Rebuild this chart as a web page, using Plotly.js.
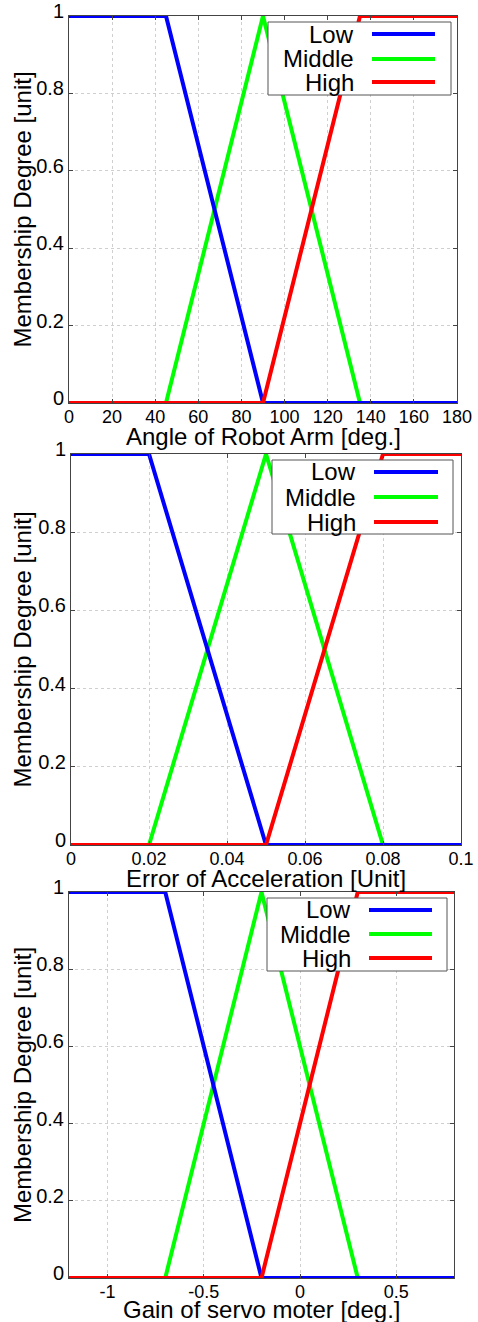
<!DOCTYPE html>
<html>
<head>
<meta charset="utf-8">
<script src="https://cdn.plot.ly/plotly-3.0.1.min.js"></script>
<style>html,body{margin:0;padding:0;background:#fff;}#chart{width:478px;height:1322px;}</style>
</head>
<body>
<div id="chart"></div>
<script>
// ---- Data ----
const seriesNames = ["Low", "Middle", "High"];
const seriesColors = ["#0000ff", "#00ff00", "#ff0000"];

// Panel 1: Angle of Robot Arm [deg.]
const angleLowX = [0, 45, 90, 180];
const angleLowY = [1, 1, 0, 0];
const angleMidX = [0, 45, 90, 135, 180];
const angleMidY = [0, 0, 1, 0, 0];
const angleHighX = [0, 90, 135, 180];
const angleHighY = [0, 0, 1, 1];

// Panel 2: Error of Acceleration [Unit]
const errLowX = [0, 0.02, 0.05, 0.1];
const errLowY = [1, 1, 0, 0];
const errMidX = [0, 0.02, 0.05, 0.08, 0.1];
const errMidY = [0, 0, 1, 0, 0];
const errHighX = [0, 0.05, 0.08, 0.1];
const errHighY = [0, 0, 1, 1];

// Panel 3: Gain of servo moter [deg.]
const gainLowX = [-1.2, -0.7, -0.2, 0.8];
const gainLowY = [1, 1, 0, 0];
const gainMidX = [-1.2, -0.7, -0.2, 0.3, 0.8];
const gainMidY = [0, 0, 1, 0, 0];
const gainHighX = [-1.2, -0.2, 0.3, 0.8];
const gainHighY = [0, 0, 1, 1];

const gainTickVals = [-1, -0.5, 0, 0.5];
const gainTickText = ["-1", "-0.5", "0", "0.5"];

const xTitles = ["Angle of Robot Arm [deg.]", "Error of Acceleration [Unit]", "Gain of servo moter [deg.]"];
const yTitle = "Membership Degree [unit]";

// ---- Layout geometry (pixels) ----
const W = 478, H = 1322;
const panels = [
  {x0: 69, x1: 457, y0: 16, y1: 403, tx: 263, ty: 436, leg: {x0: 268, x1: 451, y0: 22, y1: 95, tx: 356, l0: 372, l1: 435, rows: [34, 59, 82]}},
  {x0: 71, x1: 461, y0: 454, y1: 845, tx: 266, ty: 878, leg: {x0: 272, x1: 453, y0: 460, y1: 534, tx: 358, l0: 374, l1: 438, rows: [472, 497, 522]}},
  {x0: 69, x1: 454, y0: 892, y1: 1278, tx: 261, ty: 1309, leg: {x0: 267, x1: 447, y0: 898, y1: 971, tx: 353, l0: 369, l1: 432, rows: [910, 934, 958]}}
];
const px = v => v / W;
const py = v => 1 - v / H;

const dataSets = [
  [[angleMidX, angleMidY, 1], [angleLowX, angleLowY, 0], [angleHighX, angleHighY, 2]],
  [[errMidX, errMidY, 1], [errLowX, errLowY, 0], [errHighX, errHighY, 2]],
  [[gainMidX, gainMidY, 1], [gainLowX, gainLowY, 0], [gainHighX, gainHighY, 2]]
];

const traces = [];
dataSets.forEach((set, p) => {
  const sfx = p === 0 ? "" : String(p + 1);
  set.forEach(([xs, ys, idx]) => {
    traces.push({
      type: "scatter", mode: "lines", x: xs, y: ys,
      name: seriesNames[idx], showlegend: false,
      line: {color: seriesColors[idx], width: 4},
      xaxis: "x" + sfx, yaxis: "y" + sfx, hoverinfo: "skip"
    });
  });
});

const font = "Liberation Sans, Arial, Helvetica, sans-serif";
const axisCommon = {
  showline: true, mirror: "ticks", linecolor: "#444", linewidth: 1,
  ticks: "inside", ticklen: 4, tickcolor: "#444",
  showgrid: true, gridcolor: "#cfcfcf", griddash: "dot", gridwidth: 1,
  zeroline: false, fixedrange: true
};

const layout = {
  width: W, height: H,
  margin: {l: 0, r: 0, t: 0, b: 0},
  paper_bgcolor: "#fff", plot_bgcolor: "#fff",
  font: {family: font, color: "#000"},
  showlegend: false,
  shapes: [], annotations: []
};

const xRanges = [[0, 180], [0, 0.1], [-1.2, 0.8]];
const xDticks = [20, 0.02, 0.5];

panels.forEach((pn, p) => {
  const sfx = p === 0 ? "" : String(p + 1);
  const xa = Object.assign({}, axisCommon, {
    domain: [px(pn.x0), px(pn.x1)], anchor: "y" + sfx,
    range: xRanges[p], dtick: xDticks[p], tick0: 0,
    tickfont: {size: 18, family: font, color: "#000"},
    ticklabelstandoff: -3
  });
  if (p === 2) { xa.tickmode = "array"; xa.tickvals = gainTickVals; xa.ticktext = gainTickText; }
  const ya = Object.assign({}, axisCommon, {
    domain: [py(pn.y1), py(pn.y0)], anchor: "x" + sfx,
    range: [0, 1], dtick: 0.2, tick0: 0,
    tickfont: {size: 20, family: font, color: "#000"},
    ticklabelshift: -5
  });
  layout["xaxis" + sfx] = xa;
  layout["yaxis" + sfx] = ya;

  // axis titles
  layout.annotations.push({xref: "paper", yref: "paper",
    x: px(pn.tx), y: py(pn.ty),
    xanchor: "center", yanchor: "middle", showarrow: false, text: xTitles[p],
    font: {size: 24, family: font, color: "#000"}});
  layout.annotations.push({xref: "paper", yref: "paper",
    x: px(22), y: py((pn.y0 + pn.y1) / 2),
    xanchor: "center", yanchor: "middle", showarrow: false, text: yTitle, textangle: -90,
    font: {size: 24, family: font, color: "#000"}});

  // legend box
  const L = pn.leg;
  layout.shapes.push({type: "rect", xref: "paper", yref: "paper",
    x0: px(L.x0), x1: px(L.x1), y0: py(L.y1), y1: py(L.y0),
    fillcolor: "#fff", line: {color: "#555", width: 1}, layer: "above"});
  L.rows.forEach((ry, i) => {
    layout.shapes.push({type: "line", xref: "paper", yref: "paper",
      x0: px(L.l0), x1: px(L.l1), y0: py(ry), y1: py(ry),
      line: {color: seriesColors[i], width: 4}, layer: "above"});
    layout.annotations.push({xref: "paper", yref: "paper", x: px(L.tx), y: py(ry),
      xanchor: "right", yanchor: "middle", showarrow: false, text: seriesNames[i],
      font: {size: 24, family: font, color: "#000"}});
  });
});

Plotly.newPlot("chart", traces, layout, {staticPlot: true, displayModeBar: false});
</script>
</body>
</html>
